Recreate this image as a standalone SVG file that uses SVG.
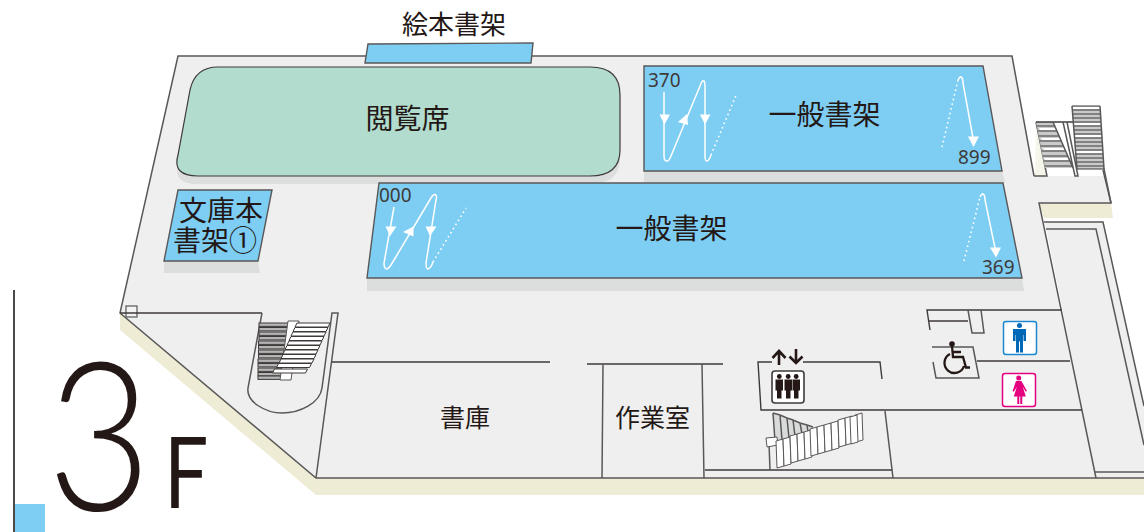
<svg xmlns="http://www.w3.org/2000/svg" width="1144" height="532" viewBox="0 0 1144 532">
<style>
text{font-family:"Noto Sans CJK JP","Noto Sans",sans-serif;fill:#231815}
.w{fill:none;stroke:#595757;stroke-width:1.5}
.d{fill:none;stroke:#3e3a39;stroke-width:1.4}
.sh{fill:#dcdddd}
.bl{fill:#7ecef4;stroke:#595757;stroke-width:1.4}
.ar{fill:none;stroke:#fff;stroke-width:1.5}
.dot{fill:none;stroke:#fff;stroke-width:1.6;stroke-dasharray:1.6 3.2}
.ah{fill:#fff}
.n{font-family:"Noto Sans",sans-serif;font-size:19px;fill:#3e3a39}
.l{font-size:28px;text-anchor:middle}
.m{font-size:25px;text-anchor:middle}
.tr{fill:#b5b5b5;stroke:#3e3a39;stroke-width:1}
.st{fill:#fff;stroke:#595757;stroke-width:1}
</style>
<defs>
<polygon id="s1" class="st" points="0,0 7,-2 8,25 1,27"/>
<polygon id="s2" class="st" points="0,0 33,0 31,4 -2,4" style="stroke:#3e3a39"/>
<rect id="t1" class="tr" x="0" y="0" width="30" height="3.4"/>
</defs>

<g id="floor">
<polygon fill="#efecd5" points="120,313 120,330 316,495 1144,495 1144,478 316,478"/>
<polygon fill="#efecd5" points="1039,203 1111,203 1113,218 1044,218"/>
<polygon fill="#efefef" points="178,56 1012,56 1034,176 1104,176 1111,203 1039,203 1096,478 316,478 120,313"/>
<polygon fill="#efefef" points="1045,222 1103,222 1144,406 1144,478 1096,478"/>
<polygon fill="#f6f5ea" points="1036,130 1047,176 1035,176"/>
<path class="w" d="M1034,176L1012,56H178L120,313L316,478H1144M1034,176H1047L1036,122M1103,170L1111,203H1039L1096,478M1044,222H1103L1144,406M1046,229H1096L1144,445M1095,472H1144"/>
</g>

<g id="walls">
<rect x="126" y="306" width="11" height="11" fill="#f3f3f3" stroke="#595757" stroke-width="1.2"/>
<path class="d" d="M120,313H262"/>
<path class="w" d="M262,313L248,388C246,402 266,413 282,413C300,413 320,403 322,388L332,313H338L316,478"/>
<path class="d" d="M332,362H550M587,364H723"/>
<path class="w" d="M603,365L602,478M702,364L704,478M885,411L893,478"/>
<path class="d" d="M705,470H892"/>
<path class="d" d="M772,362H758L761,410H1082M803,362H880L882,379"/>
<path class="d" d="M930,330L927,310H1062M928,321H968"/>
<path class="w" d="M968,310L972,333H984L981,310"/>
<path class="w" d="M932,347H973L979,378H936L933,362"/>
<path class="d" d="M977,361H1070"/>
</g>

<g id="stairs-left">
<use href="#t1" x="259" y="323"/><use href="#t1" x="259" y="327.500"/><use href="#t1" x="259" y="332"/><use href="#t1" x="259" y="336.500"/><use href="#t1" x="258.500" y="341"/><use href="#t1" x="258.500" y="345.500"/><use href="#t1" x="258.500" y="350"/><use href="#t1" x="258.500" y="354.500"/><use href="#t1" x="258" y="359"/><use href="#t1" x="258" y="363.500"/><use href="#t1" x="258" y="368"/><use href="#t1" x="258" y="372.500"/><use href="#t1" x="258" y="376"/>
<polygon class="st" points="288,321 299,321 291,380 280,380"/>
<use href="#s2" x="297" y="323"/><use href="#s2" x="295" y="327.500"/><use href="#s2" x="293" y="332"/><use href="#s2" x="291" y="336.500"/><use href="#s2" x="289" y="341"/><use href="#s2" x="287" y="345.500"/><use href="#s2" x="285" y="350"/><use href="#s2" x="283" y="354.500"/><use href="#s2" x="281" y="359"/><use href="#s2" x="278.500" y="363.500"/><use href="#s2" x="274.500" y="369"/>
</g>

<g id="stairs-right">
<polygon fill="#c9caca" points="1036,122 1053,122 1073,168 1045,168"/>
<path stroke="#3e3a39" stroke-width="1" fill="none" d="M1037,126H1055M1038,131H1057M1039,136H1059M1040,141H1061M1041,146H1063M1042,151H1065M1043,156H1068M1044,161H1070M1045,166H1072"/>
<path fill="#fff" d="M1039,128H1056l1,2H1040zM1041,138H1060l1,2H1042zM1043,148H1064l1,2H1044zM1044,158H1068l1,2H1045z"/>
<path class="d" d="M1036,122H1073"/>
<path class="w" d="M1053,122L1073,168M1063,122L1075,176H1078L1067,122"/>
<polygon fill="#c9caca" points="1072,106 1100,106 1104,169 1077,169"/>
<path stroke="#3e3a39" stroke-width="1" fill="none" d="M1072,106H1100M1072.200,110H1100.200M1072.500,114H1100.500M1072.800,118H1100.800M1073,122H1101M1073.300,126H1101.300M1073.600,130H1101.600M1073.900,134H1101.900M1074.100,138H1102.100M1074.400,142H1102.400M1074.700,146H1102.700M1075,150H1103M1075.200,154H1103.200M1075.500,158H1103.500M1075.800,162H1103.800M1076,166H1104M1077,169H1104"/>
<path fill="#fff" d="M1072,107H1100V109H1072zM1073,123H1101V125H1073zM1074,135H1102V137H1074zM1075,151H1103V153H1075z"/>
<path class="w" d="M1072,106L1077,169M1100,106L1104,169L1111,203"/>
</g>

<g id="stairs-center">
<polygon points="773,413 813,427 805,436 776,443" fill="#d9dada"/>
<path class="w" d="M773,413L775,441M780,415L782,440M787,418L789,438M793,420L795,436M800,423L802,434M807,425L808,432M773,413L780,415L787,418L793,420L800,423L807,425L813,427"/>
<path class="w" d="M769,443L770,470"/>
<polygon class="st" points="766,438 777,437 778,445 767,447"/>
<use href="#s1" x="776" y="441"/><use href="#s1" x="783" y="439"/><use href="#s1" x="790" y="436"/><use href="#s1" x="797" y="434"/><use href="#s1" x="804" y="432"/><use href="#s1" x="810" y="429"/><use href="#s1" x="817" y="427"/><use href="#s1" x="824" y="425"/><use href="#s1" x="831" y="423"/><use href="#s1" x="838" y="420"/><use href="#s1" x="845" y="418"/><use href="#s1" x="855" y="415"/><use href="#s1" x="850" y="417"/>
</g>

<g id="picture-shelf">
<polygon class="bl" points="368,44 533,43 531,63 365,63"/>
<text class="m" x="454" y="34" style="font-size:26px">絵本書架</text>
</g>

<g id="reading">
<path class="sh" d="M218,75H590Q620,75 620,103V158Q620,184 590,184H198Q172,184 178,163L190,98Q195,75 218,75Z"/>
<path fill="#b2dccd" stroke="#3e3a39" stroke-width="1.2" d="M218,67H590Q620,67 620,95V150Q620,176 590,176H198Q172,176 178,155L190,90Q195,67 218,67Z"/>
<text class="l" x="407.500" y="129">閲覧席</text>
</g>

<g id="shelf-a">
<polygon class="sh" points="644,171 1002,171 1005,183 644,183"/>
<polygon class="bl" points="644,66 983,66 1002,171 644,171"/>
<path class="ar" d="M664,92V156Q664,161 667,161Q669,161 671,156L700,86Q702,80 704,81Q705,82 705,87V156Q705,161 707,161Q709,161 711,155"/>
<path class="dot" d="M711,155L737,93"/>
<polygon class="ah" points="659.500,114.500 670,114.500 664.500,124.500"/><polygon class="ah" points="678,122 688,125 687,114"/><polygon class="ah" points="700,114.500 710.500,114.500 705,124.500"/>
<path class="dot" d="M942,147L958,80"/>
<path class="ar" d="M958,80Q960,76 961,77Q963,78 963,83L973,138"/>
<polygon class="ah" points="968,136.500 979,136.500 973.500,147"/>
<text class="n" x="648" y="87">370</text>
<text class="n" x="958" y="164">899</text>
<text class="l" x="824.500" y="125">一般書架</text>
</g>

<g id="shelf-b">
<polygon class="sh" points="367,278 1022,278 1024,291 367,291"/>
<polygon class="bl" points="379,183 1003,183 1022,278 367,278"/>
<path class="ar" d="M394,207L384,263Q384,269 387,269Q389,268 391,265L431,198Q434,193 436,195Q437,197 436,200L426,263Q426,269 428,269Q431,268 433,262"/>
<path class="dot" d="M433,262L466,208"/>
<polygon class="ah" points="385.500,226.500 396.500,226.500 390,236"/><polygon class="ah" points="403,232 413.500,226.500 413.500,236.500"/><polygon class="ah" points="425.500,226.500 436.500,226.500 430,236"/>
<path class="dot" d="M964,261L980,197"/>
<path class="ar" d="M980,197Q982,193 983,194Q985,195 985,200L995,248"/>
<polygon class="ah" points="990,247.500 1001,247.500 996,257.500"/>
<text class="n" x="379" y="202">000</text>
<text class="n" x="982" y="274">369</text>
<text class="l" x="671.500" y="239">一般書架</text>
</g>

<g id="bunko">
<polygon class="sh" points="164,261 258,261 260,273 164,273"/>
<polygon class="bl" points="178,190 272,190 258,261 164,261"/>
<text class="l" x="221" y="221">文庫本</text>
<text class="l" x="215" y="251">書架①</text>
</g>

<g id="stacks"><text class="m" x="465" y="427">書庫</text></g>
<g id="workroom"><text class="m" x="652.500" y="427">作業室</text></g>

<g id="elevator">
<rect x="772" y="371" width="32" height="32" rx="3" fill="#fff" stroke="#3e3a39" stroke-width="1.6"/>
<path fill="#231815" d="M775.500,379.500h7.500v11h-1.500v8h-4.500v-8h-1.500zM784.500,379.500h7.500v11h-1.500v8h-4.500v-8h-1.500zM792.500,379.500h7.500v11h-1.500v8h-4.500v-8h-1.500z"/>
<circle cx="779.300" cy="376.500" r="2.400" fill="#231815"/><circle cx="788.200" cy="376.500" r="2.400" fill="#231815"/><circle cx="796.200" cy="376.500" r="2.400" fill="#231815"/>
<path fill="none" stroke="#231815" stroke-width="2.600" d="M779,365V352M772.500,358L779,351L785.500,358M796,349V362M789.500,356.500L796,363L802.500,356.500"/>
</g>

<g id="accessible">
<circle cx="952" cy="344" r="2.800" fill="#231815"/>
<path fill="none" stroke="#231815" stroke-width="2.300" d="M952,346L953,357H963L966,367.500H970M952.500,352H961M950,354A10,10 0 1,0 964,366"/>
</g>

<g id="men">
<rect x="1003.500" y="321.500" width="33" height="33" rx="2.500" fill="#fff" stroke="#1b87d0" stroke-width="1.500"/>
<circle cx="1019.500" cy="325.500" r="2.500" fill="#0068b7"/>
<path fill="#0068b7" d="M1013,329h13v12h-2.500v-6h-.5v17.500h-3v-11h-1v11h-3v-17.500h-.5v6h-2.500z"/>
</g>

<g id="women">
<rect x="1002.500" y="373.500" width="33" height="33" rx="2.500" fill="#fff" stroke="#e4007f" stroke-width="1.500"/>
<circle cx="1018.700" cy="378" r="2.500" fill="#e4007f"/>
<path fill="#e4007f" d="M1016,381h5.400l5.600,10-1.200,.7-3,-4.600 3,9.400h-3.500v7.500h-2v-7.500h-1v7.500h-2v-7.500h-3.500l3,-9.400-3,4.600-1.200,-.7z"/>
</g>

<g id="floor-label">
<rect x="13" y="290" width="2" height="242" fill="#4c4948"/>
<rect x="15" y="504" width="30" height="28" fill="#7ecef4"/>
<text transform="translate(47,510) scale(.9,1.04)" style="font-family:Lato,sans-serif;font-weight:300;font-size:200px">3</text>
<text transform="translate(164,508) scale(.8,1)" style="font-family:Lato,sans-serif;font-weight:400;font-size:98px">F</text>
</g>
</svg>
